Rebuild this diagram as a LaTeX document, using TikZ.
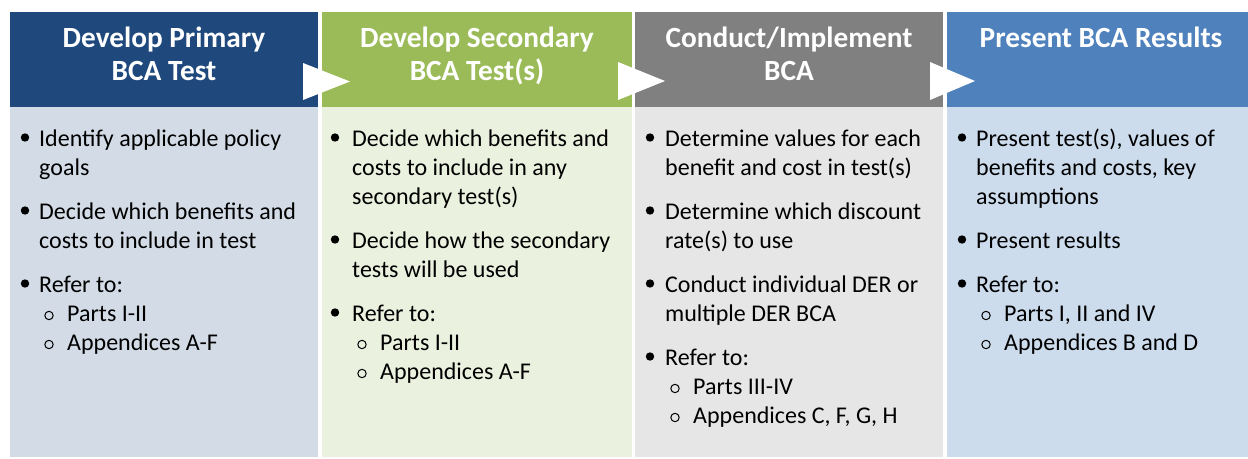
\documentclass[tikz,border=0pt]{standalone}
\usepackage{fontspec}
\setmainfont{Carlito}
\definecolor{hA}{HTML}{1F497D}
\definecolor{hB}{HTML}{9BBB59}
\definecolor{hC}{HTML}{808080}
\definecolor{hD}{HTML}{4F81BD}
\definecolor{bA}{HTML}{D3DCE6}
\definecolor{bB}{HTML}{EBF1DF}
\definecolor{bC}{HTML}{E6E6E6}
\definecolor{bD}{HTML}{CCDCEC}
\newcommand\bodyf{\fontsize{24}{29}\selectfont}
\newcommand\headf{\bfseries\fontsize{29.3}{33}\selectfont}
\tikzset{
  panel/.style={rectangle, draw=none, inner sep=0pt, outer sep=0pt, anchor=north west},
  txt/.style={anchor=base west, inner sep=0pt, font=\bodyf, text=black},
  htxt/.style={anchor=base, inner sep=0pt, font=\headf, text=white},
  tri/.style={fill=white, draw=none}
}
% line of text: name, x, baseline y, text
\newcommand\tl[4]{\node[txt] (#1) at (#2,#3) {#4};}
% filled bullet: x, baseline y
\newcommand\fb[2]{\fill[black] (#1,{#2-8.5}) circle (4.2);}
% open sub-bullet: x, baseline y
\newcommand\ob[2]{\draw[black, line width=1pt] (#1,{#2-5.5}) circle (4.2);}
\begin{document}
\begin{tikzpicture}[x=1pt, y=-1pt]
\useasboundingbox (0,0) rectangle (1248,458);
\begin{scope}
\clip (0,0) rectangle (1248,458);
% panels
\node[panel, fill=hA, minimum width=308pt, minimum height=95pt] (h1) at (10,12) {};
\node[panel, fill=hB, minimum width=310pt, minimum height=95pt] (h2) at (322,12) {};
\node[panel, fill=hC, minimum width=308pt, minimum height=95pt] (h3) at (635,12) {};
\node[panel, fill=hD, minimum width=308pt, minimum height=95pt] (h4) at (947,12) {};
\node[panel, fill=bA, minimum width=308pt, minimum height=350pt] (b1) at (10,107) {};
\node[panel, fill=bB, minimum width=310pt, minimum height=350pt] (b2) at (322,107) {};
\node[panel, fill=bC, minimum width=308pt, minimum height=350pt] (b3) at (635,107) {};
\node[panel, fill=bD, minimum width=308pt, minimum height=350pt] (b4) at (947,107) {};
\end{scope}
% arrows between headers
\fill[tri] (303,63) -- (350,81.5) -- (303,100) -- cycle;
\fill[tri] (618,62) -- (665,81) -- (618,100) -- cycle;
\fill[tri] (930,62) -- (975,81) -- (930,100) -- cycle;
% header texts
\node[htxt] (t1a) at (164,47) {Develop Primary};
\node[htxt] (t1b) at (164,80) {BCA Test};
\node[htxt] (t2a) at (477,47) {Develop Secondary};
\node[htxt] (t2b) at (477,80) {BCA Test(s)};
\node[htxt] (t3a) at (789,47) {Conduct/Implement};
\node[htxt] (t3b) at (789,80) {BCA};
\node[htxt] (t4a) at (1101,47) {Present BCA Results};
% column 1
\fb{25}{146}\tl{a1}{39}{146}{Identify applicable policy}
\tl{a2}{39}{175}{goals}
\fb{25}{219}\tl{a3}{39}{219}{Decide which benefits and}
\tl{a4}{39}{248}{costs to include in test}
\fb{25}{292}\tl{a5}{39}{292}{Refer to:}
\ob{49}{321}\tl{a6}{67}{321}{Parts I-II}
\ob{49}{350}\tl{a7}{67}{350}{Appendices A-F}
% column 2
\fb{335}{146}\tl{c1}{352}{146}{Decide which benefits and}
\tl{c2}{352}{175}{costs to include in any}
\tl{c3}{352}{204}{secondary test(s)}
\fb{335}{248}\tl{c4}{352}{248}{Decide how the secondary}
\tl{c5}{352}{277}{tests will be used}
\fb{335}{321}\tl{c6}{352}{321}{Refer to:}
\ob{362}{350}\tl{c7}{380}{350}{Parts I-II}
\ob{362}{379}\tl{c8}{380}{379}{Appendices A-F}
% column 3
\fb{650}{146}\tl{d1}{665}{146}{Determine values for each}
\tl{d2}{665}{175}{benefit and cost in test(s)}
\fb{650}{219}\tl{d3}{665}{219}{Determine which discount}
\tl{d4}{665}{248}{rate(s) to use}
\fb{650}{292}\tl{d5}{665}{292}{Conduct individual DER or}
\tl{d6}{665}{321}{multiple DER BCA}
\fb{650}{365}\tl{d7}{665}{365}{Refer to:}
\ob{675}{394}\tl{d8}{693}{394}{Parts III-IV}
\ob{675}{423}\tl{d9}{693}{423}{Appendices C, F, G, H}
% column 4
\fb{962}{146}\tl{e1}{976}{146}{Present test(s), values of}
\tl{e2}{976}{175}{benefits and costs, key}
\tl{e3}{976}{204}{assumptions}
\fb{962}{248}\tl{e4}{976}{248}{Present results}
\fb{962}{292}\tl{e5}{976}{292}{Refer to:}
\ob{986}{321}\tl{e6}{1004}{321}{Parts I, II and IV}
\ob{986}{350}\tl{e7}{1004}{350}{Appendices B and D}
\end{tikzpicture}
\end{document}
